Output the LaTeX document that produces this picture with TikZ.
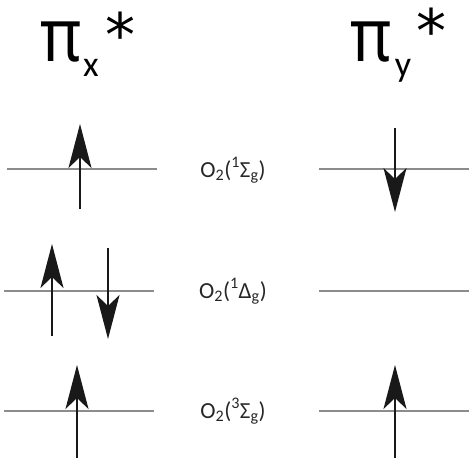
\documentclass[tikz,border=0pt]{standalone}
\usepackage{fontspec}
\usepackage{graphicx}
\setmainfont{Carlito}
\newfontfamily\pifont{Noto Sans}
\newfontfamily\starfont{DejaVu Sans}
\usetikzlibrary{arrows.meta}
\begin{document}
\begin{tikzpicture}[x=1pt,y=-1pt,
  level/.style={draw=black!45, line width=2.6pt},
  spin/.style={draw=black!90, line width=1.8pt, -{Stealth[length=44pt,width=23pt,inset=11pt]}},
  lbl/.style={inner sep=0pt, anchor=base, text=black!85, font=\fontsize{23}{23}\selectfont},
  pisym/.style={inner sep=0pt, anchor=base, font=\pifont\fontsize{74}{74}\selectfont},
  subsym/.style={inner sep=0pt, anchor=base, font=\fontsize{36}{36}\selectfont},
  starsym/.style={inner sep=0pt, anchor=base, font=\starfont\fontsize{60}{60}\selectfont}]
\useasboundingbox (0,0) rectangle (473,465);
% titles
\node[pisym] (pix) at (61,62) {\scalebox{0.85}[1]{π}};
\node[subsym] (subx) at (91,77) {x};
\node[starsym] (starx) at (120,57) {*};
\node[pisym] (piy) at (371,62) {\scalebox{0.85}[1]{π}};
\node[subsym] (suby) at (403,77) {y};
\node[starsym] (stary) at (431,53) {*};
% levels
\coordinate (l1a) at (7,169);  \coordinate (l1b) at (157,169);
\coordinate (r1a) at (319,169); \coordinate (r1b) at (469,169);
\coordinate (l2a) at (4,291);  \coordinate (l2b) at (154,291);
\coordinate (r2a) at (319,291); \coordinate (r2b) at (469,291);
\coordinate (l3a) at (4,411);  \coordinate (l3b) at (154,411);
\coordinate (r3a) at (319,411); \coordinate (r3b) at (469,411);
\foreach \p in {l1,r1,l2,r2,l3,r3} \draw[level] (\p a) -- (\p b);
% labels
\node[lbl] (s1) at (233,177) {O\textsubscript{2}(\textsuperscript{1}Σ\textsubscript{g})};
\node[lbl] (d1) at (233,298) {O\textsubscript{2}(\textsuperscript{1}Δ\textsubscript{g})};
\node[lbl] (t3) at (233,418) {O\textsubscript{2}(\textsuperscript{3}Σ\textsubscript{g})};
% spins
\coordinate (a1s) at (80,209); \coordinate (a1t) at (80,124);
\coordinate (b1s) at (395,128); \coordinate (b1t) at (395,212);
\coordinate (a2s) at (52,336); \coordinate (a2t) at (52,244);
\coordinate (b2s) at (108,248); \coordinate (b2t) at (108,339);
\coordinate (a3s) at (77,458); \coordinate (a3t) at (77,365);
\coordinate (b3s) at (395,458); \coordinate (b3t) at (395,365);
\foreach \p in {a1,b1,a2,b2,a3,b3} \draw[spin] (\p s) -- (\p t);
\end{tikzpicture}
\end{document}
